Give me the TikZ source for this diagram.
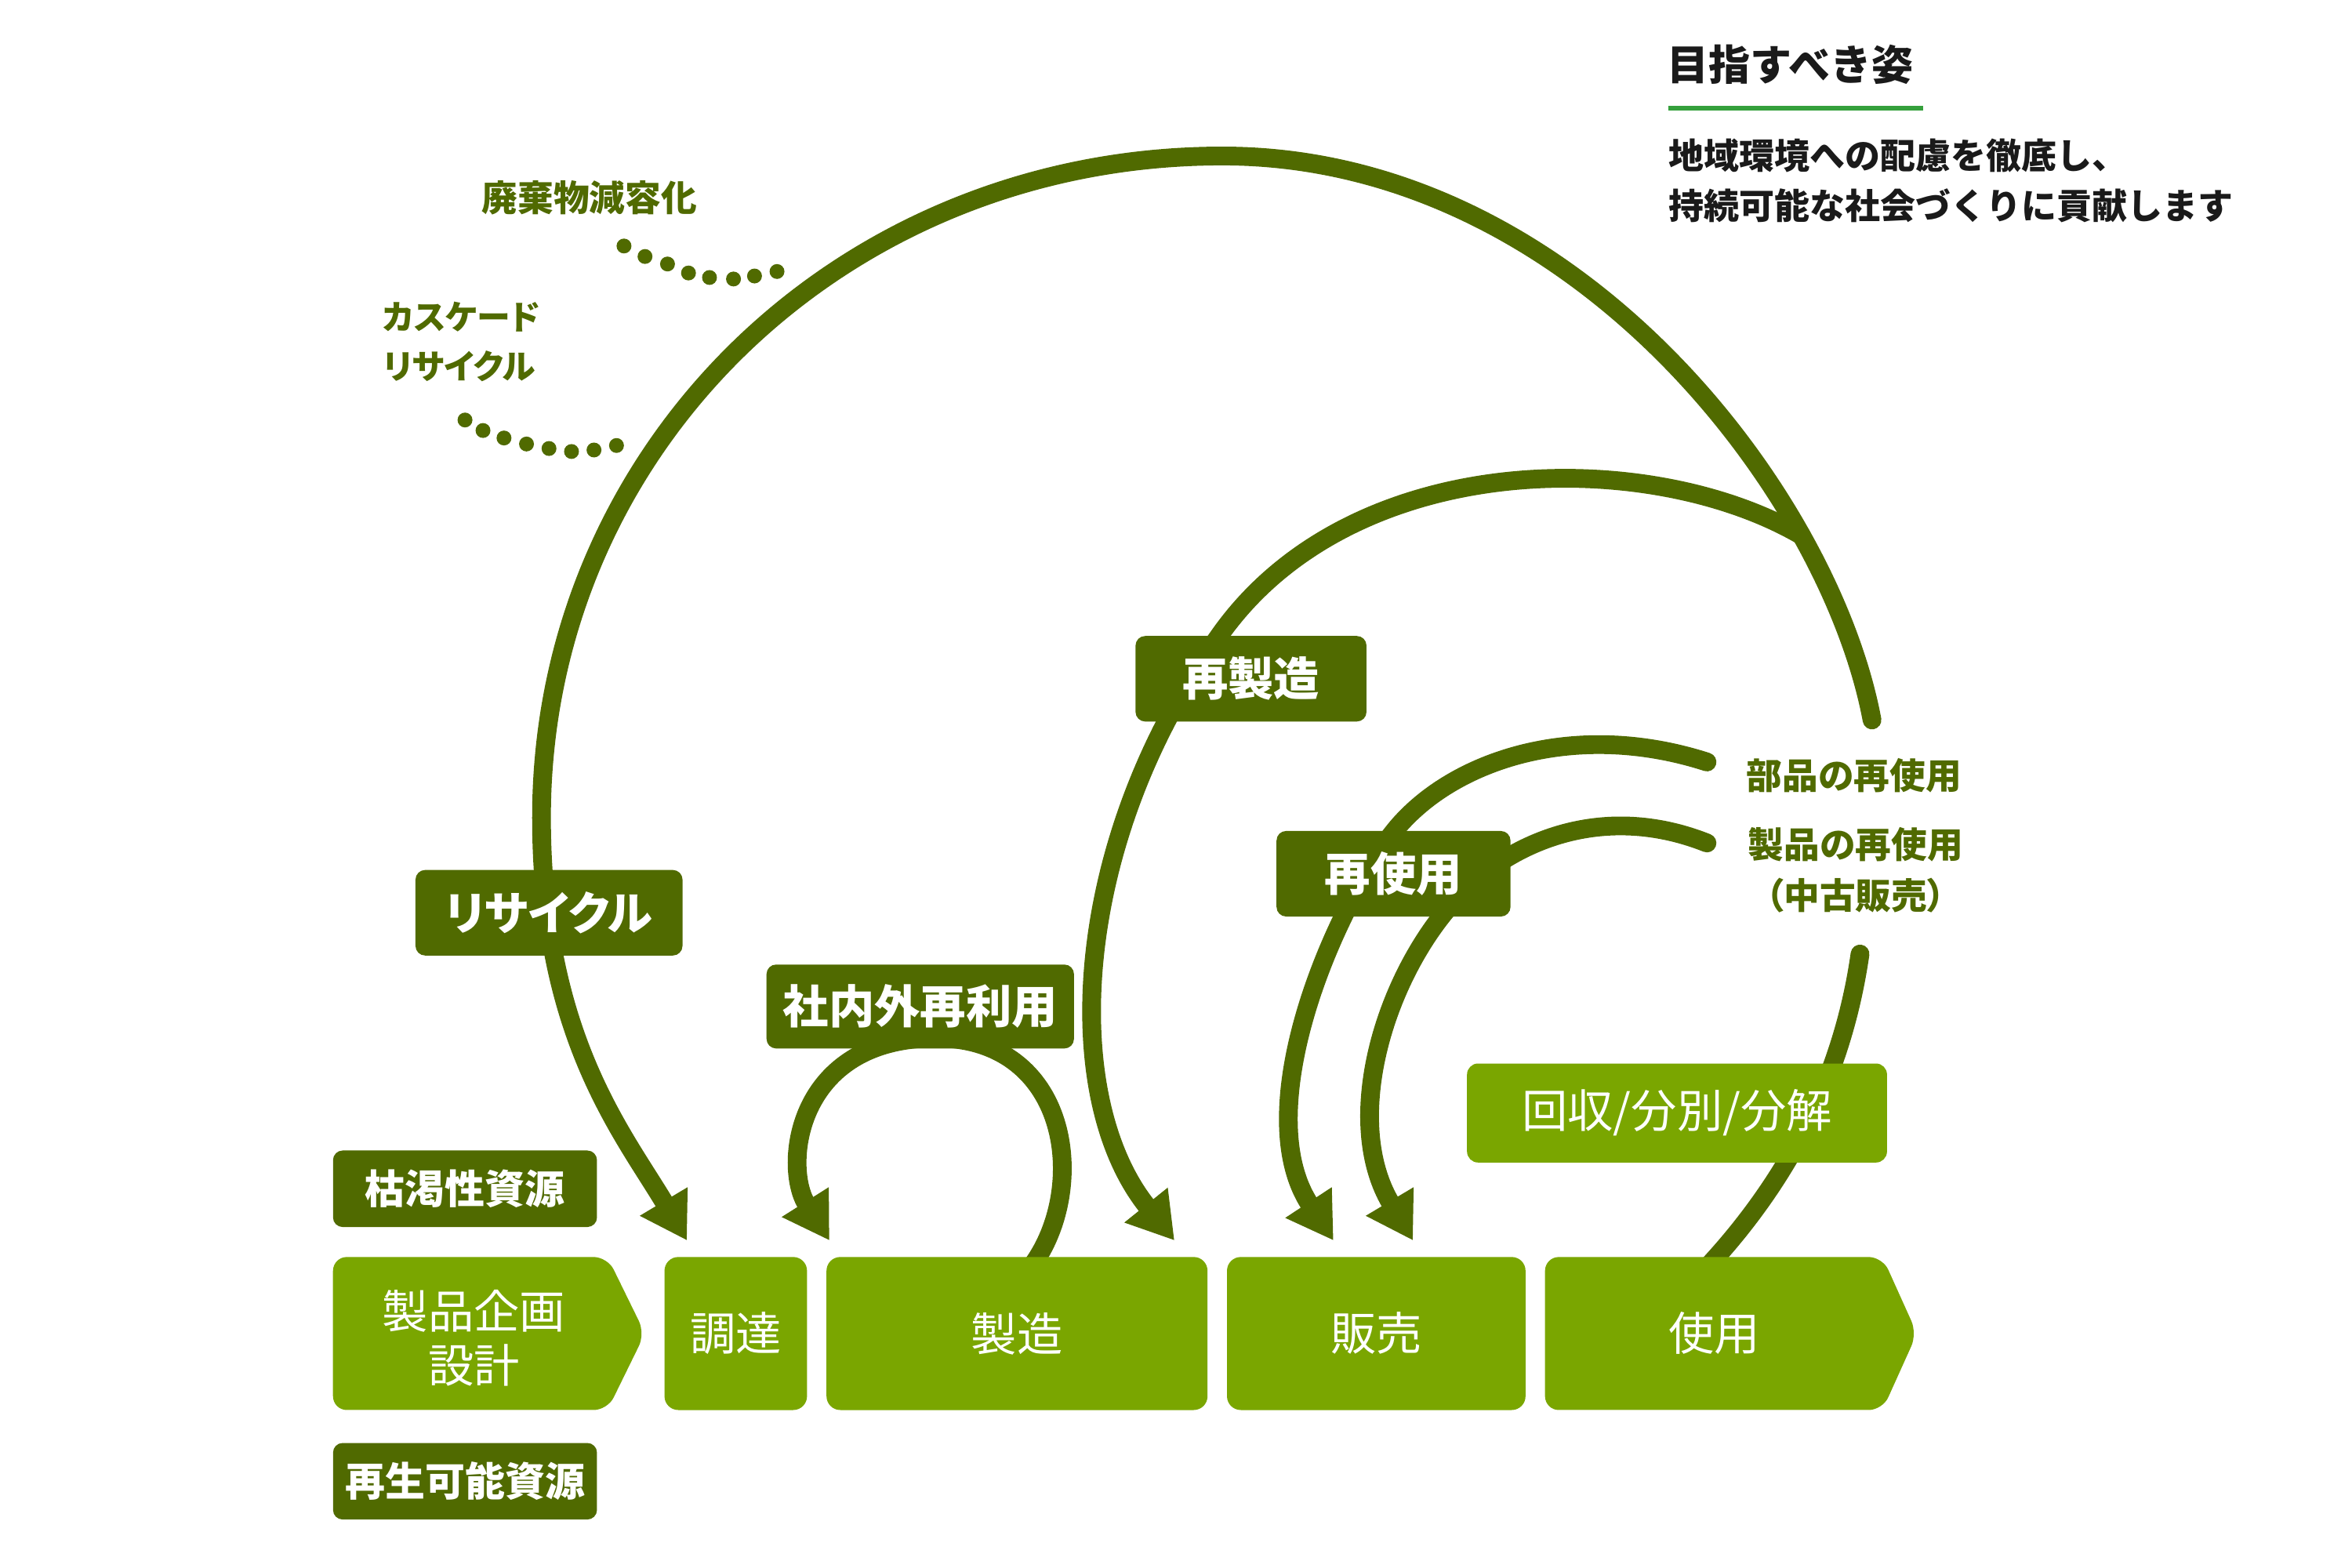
\documentclass[tikz,border=0pt]{standalone}
\usepackage{fontspec}
\setmainfont{Noto Sans CJK JP}
\newfontfamily\kana{Noto Sans CJK JP}[RawFeature=+palt]
\usetikzlibrary{arrows.meta}
\definecolor{dk}{HTML}{506A00}
\definecolor{lt}{HTML}{7AA600}
\definecolor{ul}{HTML}{35A03C}
\definecolor{ink}{HTML}{1A1A1A}
\begin{document}
\begin{tikzpicture}[x=0.019133cm, y=-0.019133cm,
  proc/.style={fill=lt, rounded corners=5pt, inner sep=0pt, text=white, font=\fontsize{16.6}{19.6}\selectfont},
  ptext/.style={inner sep=0pt, text=white, font=\fontsize{16.6}{19.6}\selectfont},
  dkbox/.style={fill=dk, rounded corners=3.5pt, inner sep=0pt, text=white, font=\bfseries\fontsize{16.6}{20}\selectfont},
  flow/.style={draw=dk, line width=6.8pt, line cap=round},
  arrowend/.style={-{Triangle[length=16.5pt,width=19pt]}},
  olivetext/.style={inner sep=0pt, text=dk, font=\bfseries\fontsize{13}{18.5}\selectfont},
  headtext/.style={inner sep=0pt, anchor=west, text=ink},
]
\useasboundingbox (0,0) rectangle (1568,1045.33);
\fill[white] (0,0) rectangle (1568,1045.33);

% ---- named end points of the connectors
\coordinate (usetop) at (1135,848);
\coordinate (gapA) at (1240,636);
\coordinate (gapB) at (1248,480);
\coordinate (arcTop) at (815,104);
\coordinate (arcLeft) at (361,545);
\coordinate (tipRec) at (458,827);
\coordinate (junc) at (1201,357);
\coordinate (tipReman) at (783,827);
\coordinate (partEnd) at (1138,508);
\coordinate (prodEnd) at (1138,562);
\coordinate (tipPart) at (889,827);
\coordinate (tipProd) at (942,827);
\coordinate (loopStart) at (683,850);
\coordinate (tipLoop) at (553,827);

% ---- dotted lines
\foreach \x/\y in {416/164,430/171,445/176,459/182,473/185,489/186,503/184,518/181}
  \fill[dk] (\x,\y) circle[radius=2.7pt];
\foreach \x/\y in {310/280,322/287,336/292,351/296,366/299,381/301,396/300,411/297}
  \fill[dk] (\x,\y) circle[radius=2.7pt];

% ---- connectors
\draw[flow, arrowend] (junc) .. controls (1100,298) and (900,298) .. (812,425)
      .. controls (715,560) and (705,730) .. (tipReman);
\draw[flow, arrowend] (gapB) .. controls (1220,330) and (1050,104) .. (arcTop)
      .. controls (560,104) and (361,300) .. (arcLeft)
      .. controls (361,690) and (415,755) .. (tipRec);
\draw[flow] (gapA) .. controls (1228,720) and (1190,790) .. (usetop);
\draw[flow, arrowend] (partEnd) .. controls (1045,478) and (960,510) .. (925,560)
      .. controls (880,625) and (835,745) .. (tipPart);
\draw[flow, arrowend] (prodEnd) .. controls (1070,535) and (1010,560) .. (975,595)
      .. controls (925,645) and (893,745) .. (tipProd);
\draw[flow, arrowend] (loopStart) .. controls (727,800) and (717,692) .. (624,692)
      .. controls (530,692) and (522,778) .. (tipLoop);

% ---- process row
\path[fill=lt, rounded corners=5pt] (222,838) -- (405,838) -- (430,889) -- (405,940) -- (222,940) -- cycle;
\node[ptext, align=center] (plan) at (316,892) {製品企画\\設計};
\node[proc, minimum width=1.818cm, minimum height=1.952cm] (procure) at (490.5,889) {調達};
\node[proc, minimum width=4.860cm, minimum height=1.952cm] (make) at (678,889) {製造};
\node[proc, minimum width=3.808cm, minimum height=1.952cm] (sell) at (917.5,889) {販売};
\path[fill=lt, rounded corners=5pt] (1030,838) -- (1255,838) -- (1278,889) -- (1255,940) -- (1030,940) -- cycle;
\node[ptext] (use) at (1143,889) {使用};
\node[proc, rounded corners=4pt, minimum width=5.357cm, minimum height=1.263cm] (collect) at (1118,742) {回収/分別/分解};

% ---- dark label boxes
\node[dkbox, font=\bfseries\fontsize{14.5}{18}\selectfont, minimum width=3.367cm, minimum height=0.976cm] (exhaust) at (310,792.5) {枯渇性資源};
\node[dkbox, font=\bfseries\fontsize{14.5}{18}\selectfont, minimum width=3.367cm, minimum height=0.976cm] (renew) at (310,987.5) {再生可能資源};
\node[dkbox, font=\kana\bfseries\fontsize{16.6}{20}\selectfont, minimum width=3.406cm, minimum height=1.091cm] (recycle) at (366,608.5) {リサイクル};
\node[dkbox, minimum width=2.946cm, minimum height=1.091cm] (reman) at (834,452.5) {再製造};
\node[dkbox, minimum width=2.985cm, minimum height=1.091cm] (reuse) at (929,582.5) {再使用};
\node[dkbox, minimum width=3.922cm, minimum height=1.071cm] (inreuse) at (613.5,671) {社内外再利用};

% ---- olive labels
\node[olivetext] (haiki) at (393,132) {廃棄物減容化};
\node[olivetext, font=\kana\bfseries\fontsize{12.2}{18}\selectfont, anchor=west, align=left] (cascade) at (255,228) {カスケード\\リサイクル};
\node[olivetext] (partlbl) at (1236,517) {部品の再使用};
\node[olivetext] (prodlbl) at (1237,563) {製品の再使用};
\node[olivetext, font=\kana\bfseries\fontsize{13}{18}\selectfont] (usedlbl) at (1237,597) {（中古販売）};

% ---- heading block
\node[headtext, font=\bfseries\fontsize{15.1}{18}\selectfont] (title) at (1111,43) {目指すべき姿};
\draw[ul, line width=1.7pt] (1112,72) -- (1282,72);
\node[headtext, font=\bfseries\fontsize{12.8}{16}\selectfont] (line1) at (1112,104) {地域環境への配慮を徹底し、};
\node[headtext, font=\bfseries\fontsize{12.8}{16}\selectfont] (line2) at (1112,137) {持続可能な社会づくりに貢献します};
\end{tikzpicture}
\end{document}
